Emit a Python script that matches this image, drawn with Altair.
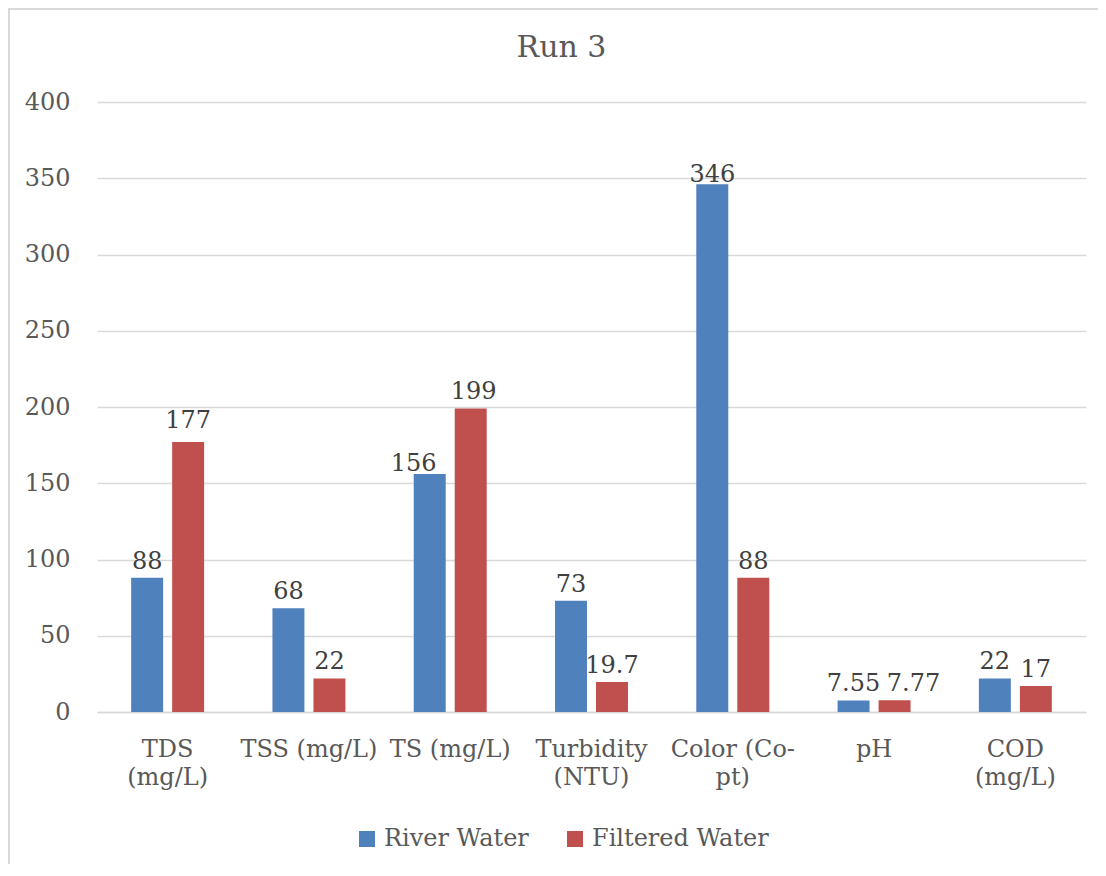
import altair as alt
import pandas as pd

categories = ["TDS|(mg/L)", "TSS (mg/L)", "TS (mg/L)", "Turbidity|(NTU)", "Color (Co-|pt)", "pH", "COD|(mg/L)"]
series = ["River Water", "Filtered Water"]
river = [88, 68, 156, 73, 346, 7.55, 22]
filtered = [177, 22, 199, 19.7, 88, 7.77, 17]
colors = ["#4f81bd", "#c0504d"]
y_ticks = [0, 50, 100, 150, 200, 250, 300, 350, 400]

rows = []
for c, r, f in zip(categories, river, filtered):
    rows.append({"cat": c, "series": series[0], "value": r, "label": f"{r:g}"})
    rows.append({"cat": c, "series": series[1], "value": f, "label": f"{f:g}"})
df = pd.DataFrame(rows)

FONT = "DejaVu Serif"

# label placement tweaks (style only): (category, series) -> (dx, dy)
default_nudge = (0, -9)
label_nudges = {
    ("TDS|(mg/L)", "Filtered Water"): (0, -14),
    ("TS (mg/L)", "River Water"): (-16, -3),
    ("TS (mg/L)", "Filtered Water"): (3, -10),
    ("Color (Co-|pt)", "River Water"): (0, -2),
    ("pH", "Filtered Water"): (19, -9),
}

x_enc = alt.X("cat:N", sort=categories, title=None,
              scale=alt.Scale(paddingInner=0, paddingOuter=0),
              axis=alt.Axis(labelAngle=0, labelExpr="split(datum.label, '|')",
                            labelFont=FONT, labelFontSize=24, labelColor="#595959",
                            labelLineHeight=28, labelBaseline="top", labelPadding=25,
                            ticks=False, domainColor="#d9d9d9", domainWidth=1.5,
                            labelLimit=0, grid=False))
xo_enc = alt.XOffset("series:N", sort=series,
                     scale=alt.Scale(paddingInner=0.22, paddingOuter=0.833))
y_enc = alt.Y("value:Q", title=None,
              scale=alt.Scale(domain=[0, 400], nice=False),
              axis=alt.Axis(values=y_ticks, labelFont=FONT, labelFontSize=24,
                            labelColor="#595959", labelPadding=27, ticks=False,
                            domain=False, gridColor="#d9d9d9", gridWidth=1.5))

bars = alt.Chart(df).mark_bar().encode(
    x=x_enc, xOffset=xo_enc, y=y_enc,
    color=alt.Color("series:N", sort=series,
                    scale=alt.Scale(domain=series, range=colors),
                    legend=alt.Legend(title=None, orient="none", legendX=258, legendY=725,
                                      direction="horizontal", symbolType="square",
                                      symbolSize=256, symbolStrokeWidth=0,
                                      labelFont=FONT, labelFontSize=24, labelLimit=0,
                                      labelColor="#595959", labelOffset=5,
                                      columnPadding=34, padding=0)),
)


def text_layer(filter_expr, dx, dy):
    return alt.Chart(df).transform_filter(filter_expr).mark_text(
        font=FONT, fontSize=24, color="#404040", baseline="alphabetic",
        dx=dx, dy=dy).encode(
        x=alt.X("cat:N", sort=categories),
        xOffset=alt.XOffset("series:N", sort=series),
        y="value:Q", text="label:N",
    )


conds = [f"(datum.cat == '{c}' && datum.series == '{s}')" for (c, s) in label_nudges]
layers = [bars, text_layer("!(" + " || ".join(conds) + ")", *default_nudge)]
for cond, (dx, dy) in zip(conds, label_nudges.values()):
    layers.append(text_layer(cond, dx, dy))

border = alt.Chart(pd.DataFrame({"b": [0]})).mark_rect(
    fill=None, stroke="#d9d9d9", strokeWidth=2).encode(
    x=alt.value(-88), x2=alt.value(1030), y=alt.value(-93), y2=alt.value(900))
layers.append(border)

chart = alt.layer(*layers).properties(
    width=989, height=610,
    title=alt.Title("Run 3", font=FONT, fontSize=30, fontWeight="normal",
                    color="#595959", anchor="middle", offset=0, dx=-30, dy=55),
    autosize=alt.AutoSizeParams(type="none"),
    padding={"left": 89, "top": 94, "right": 12, "bottom": 152},
).configure_view(stroke=None)

chart.save("out.html", embed_options={"renderer": "svg", "actions": False})
